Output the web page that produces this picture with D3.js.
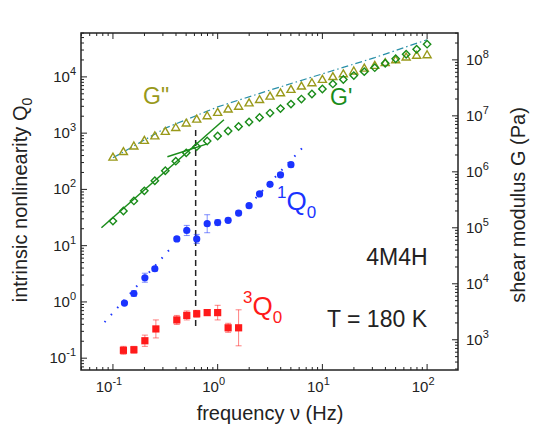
<!DOCTYPE html>
<html><head><meta charset="utf-8">
<script src="https://cdn.jsdelivr.net/npm/d3@7"></script>
<style>body{margin:0;background:#fff}text{font-family:Arial,"Liberation Sans",sans-serif}</style>
</head><body><svg id="c" width="543" height="435"></svg>
<script>
// log10 frequency grid for rheology points
const gFreq = d3.range(31).map(i => -1 + i * 0.1);
// log10 G'' (Pa)
const gLoss = [6.25,6.35,6.45,6.55,6.63,6.71,6.78,6.86,6.93,6.99,7.05,7.11,7.16,7.22,7.28,7.34,7.40,7.46,7.52,7.58,7.64,7.69,7.74,7.79,7.84,7.89,7.94,7.99,8.04,8.07,8.08];
// log10 G' (Pa)
const gStor = [5.12,5.30,5.48,5.66,5.84,6.02,6.19,6.34,6.45,6.55,6.64,6.73,6.81,6.89,6.97,7.05,7.13,7.21,7.30,7.39,7.48,7.57,7.65,7.72,7.79,7.86,7.94,8.02,8.10,8.19,8.28];
// dash-dot fit
const fitF = [-1,-0.5,0,0.5,1,1.5,2];
const fitG = [6.25,6.78,7.16,7.46,7.75,8.04,8.36];
// 1Q0
const q1F = [-0.89,-0.80,-0.695,-0.60,-0.39,-0.295,-0.20,-0.10,0.00,0.10,0.20,0.30,0.40,0.50,0.60,0.70];
const q1V = [-0.02,0.15,0.43,0.59,1.12,1.27,1.12,1.39,1.41,1.45,1.58,1.71,1.92,2.09,2.26,2.44];
const q1E = [0.03,0.05,0.08,0.04,0.04,0.09,0.08,0.16,0.05,0.04,0.04,0.03,0.03,0.03,0.04,0.04];
// 3Q0
const q3F = [-0.90,-0.80,-0.695,-0.59,-0.39,-0.295,-0.20,-0.10,0.00,0.10,0.20];
const q3V = [-0.86,-0.85,-0.69,-0.48,-0.32,-0.24,-0.21,-0.19,-0.19,-0.46,-0.46];
const q3E = [0.07,0.06,0.1,0.16,0.08,0.08,0.06,0.05,0.13,0.08,0.32];

const svg = d3.select('#c');
const L = 81, R = 458, T = 33, B = 370;
const x = d3.scaleLinear().domain([-1.305, 2.295]).range([L, R]);
const yQ = d3.scaleLinear().domain([-1.21, 4.78]).range([B, T]);
const yG = d3.scaleLinear().domain([2.46, 8.48]).range([B, T]);

const olive = '#99991a', green = '#1a8c1a', blue = '#1a33ff', red = '#ff1a1a';

svg.append('rect').attr('x', L).attr('y', T).attr('width', R - L).attr('height', B - T)
  .attr('fill', 'none').attr('stroke', '#222').attr('stroke-width', 1.5);

// ticks
function ticks(scale, lo, hi, axis) {
  for (let d = Math.floor(lo); d <= hi; d++) {
    for (let m = 1; m < 10; m++) {
      const v = d + Math.log10(m);
      if (v < lo || v > hi) continue;
      const len = m === 1 ? 6 : 3;
      const p = scale(v);
      if (axis === 'x') {
        svg.append('line').attr('x1', p).attr('x2', p).attr('y1', B).attr('y2', B - len).attr('stroke', '#222');
        svg.append('line').attr('x1', p).attr('x2', p).attr('y1', T).attr('y2', T + len).attr('stroke', '#222');
      } else if (axis === 'l') {
        svg.append('line').attr('x1', L).attr('x2', L + len).attr('y1', p).attr('y2', p).attr('stroke', '#222');
      } else {
        svg.append('line').attr('x1', R).attr('x2', R - len).attr('y1', p).attr('y2', p).attr('stroke', '#222');
      }
    }
  }
}
ticks(x, -1.305, 2.295, 'x');
ticks(yQ, -1.21, 4.78, 'l');
ticks(yG, 2.46, 8.48, 'r');

function pow(g, e) {
  g.append('tspan').text('10');
  g.append('tspan').attr('dy', -7).attr('font-size', 11).text(e);
}
[-1, 0, 1, 2].forEach(e => pow(svg.append('text').attr('x', x(e) - 4).attr('y', B + 22)
  .attr('text-anchor', 'middle').attr('font-size', 15).attr('fill', '#222'), e));
[-1, 0, 1, 2, 3, 4].forEach(e => pow(svg.append('text').attr('x', L - 5).attr('y', yQ(e) + 5)
  .attr('text-anchor', 'end').attr('font-size', 15).attr('fill', '#222'), e));
[3, 4, 5, 6, 7, 8].forEach(e => pow(svg.append('text').attr('x', R + 8).attr('y', yG(e) + 5)
  .attr('font-size', 15).attr('fill', '#222'), e));

// axis titles
svg.append('text').attr('x', 270).attr('y', 420).attr('text-anchor', 'middle').attr('font-size', 20)
  .attr('fill', '#222').text('frequency \u03bd (Hz)');
const lt = svg.append('text').attr('transform', 'translate(27,200) rotate(-90)').attr('text-anchor', 'middle')
  .attr('font-size', 20).attr('fill', '#222');
lt.append('tspan').text('intrinsic nonlinearity Q');
lt.append('tspan').attr('dy', 5).attr('font-size', 14).text('0');
svg.append('text').attr('transform', 'translate(525,205) rotate(-90)').attr('text-anchor', 'middle')
  .attr('font-size', 20).attr('fill', '#222').text('shear modulus G (Pa)');

const line = d3.line();
// fits
svg.append('path').attr('d', line(fitF.map((f, i) => [x(f), yG(fitG[i])])))
  .attr('fill', 'none').attr('stroke', '#2a90a8').attr('stroke-width', 1.2).attr('stroke-dasharray', '7,3,1.5,3');
svg.append('path').attr('d', line([[x(-1.11), yG(5.0)], [x(0.06), yG(6.93)]]))
  .attr('stroke', green).attr('stroke-width', 1.5);
svg.append('path').attr('d', line([[x(-0.48), yG(6.27)], [x(-0.1), yG(6.5)]]))
  .attr('stroke', green).attr('stroke-width', 1.5);
svg.append('path').attr('d', line([[x(-1.08), yQ(-0.36)], [x(-0.45), yQ(0.95)]]))
  .attr('stroke', blue).attr('stroke-width', 2).attr('stroke-dasharray', '1.5,8');
svg.append('path').attr('d', line([[x(0.3), yQ(1.72)], [x(0.84), yQ(2.8)]]))
  .attr('stroke', blue).attr('stroke-width', 2).attr('stroke-dasharray', '1.5,8');

// dashed vertical
svg.append('line').attr('x1', x(-0.21)).attr('x2', x(-0.21)).attr('y1', 130).attr('y2', 328)
  .attr('stroke', '#222').attr('stroke-width', 1.5).attr('stroke-dasharray', '6,4');

// G'' triangles
svg.append('g').selectAll('path').data(gFreq).join('path')
  .attr('d', d3.symbol(d3.symbolTriangle, 28))
  .attr('transform', (f, i) => `translate(${x(f)},${yG(gLoss[i])})`)
  .attr('fill', 'none').attr('stroke', olive).attr('stroke-width', 1.4);
// G' diamonds
svg.append('g').selectAll('rect').data(gFreq).join('rect')
  .attr('x', -2.6).attr('y', -2.6).attr('width', 5.2).attr('height', 5.2)
  .attr('transform', (f, i) => `translate(${x(f)},${yG(gStor[i])}) rotate(45)`)
  .attr('fill', 'none').attr('stroke', green).attr('stroke-width', 1.4);

function errs(F, V, E, ys, col) {
  const g = svg.append('g').attr('stroke', col).attr('stroke-opacity', 0.55).attr('stroke-width', 1);
  F.forEach((f, i) => {
    const px = x(f), a = ys(V[i] + E[i]), b = ys(V[i] - E[i]);
    g.append('line').attr('x1', px).attr('x2', px).attr('y1', a).attr('y2', b);
    g.append('line').attr('x1', px - 3).attr('x2', px + 3).attr('y1', a).attr('y2', a);
    g.append('line').attr('x1', px - 3).attr('x2', px + 3).attr('y1', b).attr('y2', b);
  });
}
errs(q1F, q1V, q1E, yQ, blue);
errs(q3F, q3V, q3E, yQ, red);
svg.append('g').selectAll('circle').data(q1F).join('circle')
  .attr('cx', f => x(f)).attr('cy', (f, i) => yQ(q1V[i])).attr('r', 3.6).attr('fill', blue);
svg.append('g').selectAll('rect').data(q3F).join('rect')
  .attr('x', f => x(f) - 3.6).attr('y', (f, i) => yQ(q3V[i]) - 3.6)
  .attr('width', 7.2).attr('height', 7.2).attr('fill', red);

// labels
svg.append('text').attr('x', 143).attr('y', 104).attr('font-size', 23).attr('fill', olive).text('G"');
svg.append('text').attr('x', 330).attr('y', 105).attr('font-size', 23).attr('fill', green).text("G'");
function qLabel(px, py, sup, col) {
  const t = svg.append('text').attr('x', px).attr('y', py).attr('font-size', 26).attr('fill', col);
  t.append('tspan').attr('font-size', 17).attr('dy', -12).text(sup);
  t.append('tspan').attr('dy', 12).text('Q');
  t.append('tspan').attr('font-size', 17).attr('dy', 8).text('0');
}
qLabel(277, 210, '1', blue);
qLabel(243, 315, '3', red);
svg.append('text').attr('x', 397).attr('y', 265).attr('text-anchor', 'middle').attr('font-size', 23)
  .attr('fill', '#222').text('4M4H');
svg.append('text').attr('x', 377).attr('y', 327).attr('text-anchor', 'middle').attr('font-size', 23)
  .attr('fill', '#222').text('T = 180 K');
</script></body></html>
